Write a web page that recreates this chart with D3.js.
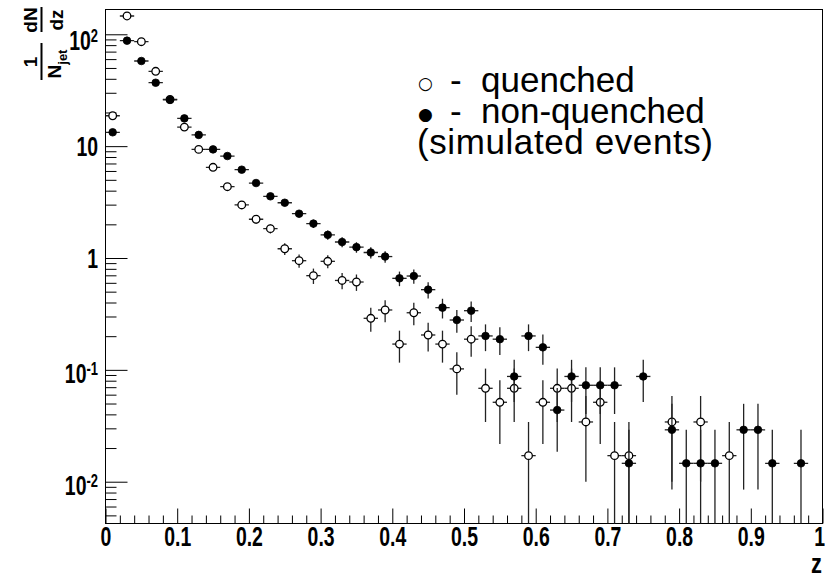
<!DOCTYPE html>
<html>
<head>
<meta charset="utf-8">
<script src="https://cdn.jsdelivr.net/npm/d3@7/dist/d3.min.js"></script>
<style>
  html, body { margin: 0; padding: 0; background: #fff; }
  svg { display: block; }
  .tick-label { font-family: "Liberation Sans", Arial, sans-serif; font-weight: bold; }
</style>
</head>
<body>
<svg id="chart" width="825" height="580"></svg>
<script>
// Bin centres in z (bin width 0.02)
const zBins = [0.01, 0.03, 0.05, 0.07, 0.09, 0.11, 0.13, 0.15, 0.17, 0.19,
               0.21, 0.23, 0.25, 0.27, 0.29, 0.31, 0.33, 0.35, 0.37, 0.39,
               0.41, 0.43, 0.45, 0.47, 0.49, 0.51, 0.53, 0.55, 0.57, 0.59,
               0.61, 0.63, 0.65, 0.67, 0.69, 0.71, 0.73, 0.75, 0.77, 0.79,
               0.81, 0.83, 0.85, 0.87, 0.89, 0.91, 0.93, 0.95, 0.97, 0.99];
const binHalfWidth = 0.01;

// Quenched jets (open markers); null = empty bin
const quenched = [18.7, 145.8, 85.9, 46.7, 26.2, 14.8, 9.35, 6.47, 4.34, 2.98,
                  2.22, 1.83, 1.21, 0.946, 0.695, 0.934, 0.63, 0.61, 0.289, 0.343,
                  0.170, 0.324, 0.205, 0.170, 0.102, 0.188, 0.0684, 0.0513, 0.0684, 0.0171,
                  0.0513, 0.0684, 0.0684, 0.0342, 0.0513, 0.0171, 0.0171, null, null, 0.0342,
                  null, 0.0342, null, 0.0171, null, null, null, null, null, null];
const quenchedErr = [0.566, 1.58, 1.21, 0.894, 0.669, 0.503, 0.400, 0.333, 0.272, 0.226,
                     0.195, 0.177, 0.144, 0.127, 0.109, 0.126, 0.104, 0.102, 0.070, 0.077,
                     0.054, 0.074, 0.059, 0.054, 0.042, 0.057, 0.0342, 0.0296, 0.0342, 0.0171,
                     0.0296, 0.0342, 0.0342, 0.0242, 0.0296, 0.0171, 0.0171, null, null, 0.0242,
                     null, 0.0242, null, 0.0171, null, null, null, null, null, null];

// Non-quenched jets (filled markers)
const nonQuenched = [13.3, 87.7, 57.7, 36.9, 25.9, 17.7, 12.6, 9.35, 8.16, 6.16,
                     4.68, 3.56, 3.12, 2.49, 2.03, 1.61, 1.39, 1.25, 1.12, 1.03,
                     0.658, 0.690, 0.521, 0.360, 0.279, 0.338, 0.201, 0.188, 0.0873, 0.201,
                     0.159, 0.0437, 0.0873, 0.0728, 0.0728, 0.0728, 0.0146, 0.0873, null, 0.0291,
                     0.0146, 0.0146, 0.0146, null, 0.0291, 0.0291, 0.0146, null, 0.0146, null];
const nonQuenchedErr = [0.44, 1.13, 0.916, 0.733, 0.614, 0.507, 0.428, 0.369, 0.345, 0.299,
                        0.261, 0.228, 0.213, 0.190, 0.172, 0.153, 0.142, 0.135, 0.128, 0.122,
                        0.098, 0.100, 0.087, 0.072, 0.064, 0.070, 0.054, 0.052, 0.0356, 0.054,
                        0.048, 0.0252, 0.0356, 0.0325, 0.0325, 0.0325, 0.0146, 0.0356, null, 0.0206,
                        0.0146, 0.0146, 0.0146, null, 0.0206, 0.0206, 0.0146, null, 0.0146, null];

// Axis ticks and labels
const xMajorTicks = [0, 0.1, 0.2, 0.3, 0.4, 0.5, 0.6, 0.7, 0.8, 0.9, 1];
const xTickLabels = ["0", "0.1", "0.2", "0.3", "0.4", "0.5", "0.6", "0.7", "0.8", "0.9", "1"];
const yMajorTicks = [0.01, 0.1, 1, 10, 100];
const yTickBase = ["10", "10", "1", "10", "10"];
const yTickExp = ["-2", "-1", null, null, "2"];
const legendLines = [
  { symbol: "\u25CB", dash: "-", text: "quenched" },
  { symbol: "\u25CF", dash: "-", text: "non-quenched" },
  { symbol: null, dash: null, text: "(simulated events)" }
];

const W = 825, H = 580;
const margin = { left: 105.5, top: 9.5, right: 2.5, bottom: 56.5 };
const plotW = W - margin.left - margin.right;
const plotH = H - margin.top - margin.bottom;
const narrow = 0.72;        // horizontal squeeze of the bold axis font
const labelSize = 27;

const svg = d3.select("#chart");
const x = d3.scaleLinear().domain([0, 1]).range([margin.left, margin.left + plotW]);
const y = d3.scaleLog().domain([0.00423, 166.6]).range([margin.top + plotH, margin.top]);

// clip region = frame
svg.append("defs").append("clipPath").attr("id", "frameClip")
  .append("rect").attr("x", margin.left).attr("y", margin.top)
  .attr("width", plotW).attr("height", plotH);

// ---- x axis ----
const xMinor = d3.range(0, 51).map(i => i * 0.02).filter(v => Math.abs(v * 10 - Math.round(v * 10)) > 1e-6);
const xAxisMinor = d3.axisBottom(x).tickValues(xMinor).tickSizeInner(-8).tickSizeOuter(0).tickFormat("");
const xAxisMajor = d3.axisBottom(x).tickValues(xMajorTicks).tickSizeInner(-15).tickSizeOuter(0)
  .tickPadding(3).tickFormat((d, i) => xTickLabels[i]);
const gx1 = svg.append("g").attr("transform", `translate(0,${margin.top + plotH})`).call(xAxisMinor);
const gx2 = svg.append("g").attr("transform", `translate(0,${margin.top + plotH})`).call(xAxisMajor);
[gx1, gx2].forEach(g => { g.select(".domain").remove(); g.selectAll("line").attr("stroke", "#000"); });
gx2.selectAll("text").attr("class", "tick-label").attr("font-size", labelSize).attr("fill", "#000")
  .attr("transform", `scale(${narrow},1)`);
// the last label sits right at the canvas edge
gx2.selectAll(".tick").filter(d => d === 1).select("text").attr("text-anchor", "end").attr("x", 2 / narrow);

// ---- y axis ----
const yAll = y.ticks();
const yMinor = yAll.filter(v => !yMajorTicks.some(m => Math.abs(Math.log10(v) - Math.log10(m)) < 1e-6));
const yAxisMinor = d3.axisLeft(y).tickValues(yMinor).tickSizeInner(-11).tickSizeOuter(0).tickFormat("");
const yAxisMajor = d3.axisLeft(y).tickValues(yMajorTicks).tickSizeInner(-22).tickSizeOuter(0)
  .tickPadding(7).tickFormat("");
const gy1 = svg.append("g").attr("transform", `translate(${margin.left},0)`).call(yAxisMinor);
const gy2 = svg.append("g").attr("transform", `translate(${margin.left},0)`).call(yAxisMajor);
[gy1, gy2].forEach(g => { g.select(".domain").remove(); g.selectAll("line").attr("stroke", "#000"); });
gy2.selectAll(".tick text").each(function (d, i) {
  const t = d3.select(this).attr("class", "tick-label").attr("font-size", labelSize).attr("fill", "#000")
    .attr("dy", null).attr("y", 0).attr("x", -7.5 / narrow).attr("transform", `scale(${narrow},1)`);
  const exp = yTickExp[i];
  if (exp === null) {
    t.attr("dy", "0.36em").text(yTickBase[i]);
  } else {
    t.text(null).attr("dy", i === yMajorTicks.length - 1 ? "0.58em" : "0.48em");
    t.append("tspan").text(yTickBase[i]);
    t.append("tspan").attr("dy", "-0.45em").attr("font-size", 18).text(exp);
  }
});

// ---- frame ----
svg.append("rect").attr("x", margin.left).attr("y", margin.top)
  .attr("width", plotW).attr("height", plotH)
  .attr("fill", "none").attr("stroke", "#000").attr("stroke-width", 1);

// ---- data ----
function series(values, errs) {
  return zBins.map((z, i) => ({ z, v: values[i], e: errs[i] })).filter(d => d.v !== null);
}
const dataQ = series(quenched, quenchedErr);
const dataN = series(nonQuenched, nonQuenchedErr);
const plot = svg.append("g").attr("clip-path", "url(#frameClip)");
const r = 3.8;

function drawSeries(data, filled) {
  const g = plot.append("g");
  // vertical error bars (lower edge may reach zero -> clipped at the frame)
  g.selectAll("line.ev").data(data).join("line").attr("class", "ev")
    .attr("x1", d => x(d.z)).attr("x2", d => x(d.z))
    .attr("y1", d => y(d.v + d.e))
    .attr("y2", d => (d.v - d.e) > 0 ? y(d.v - d.e) : margin.top + plotH + 5)
    .attr("stroke", "#222").attr("stroke-width", 1.3);
  // horizontal bars span the bin
  g.selectAll("line.eh").data(data).join("line").attr("class", "eh")
    .attr("x1", d => x(d.z - binHalfWidth)).attr("x2", d => x(d.z + binHalfWidth))
    .attr("y1", d => y(d.v)).attr("y2", d => y(d.v))
    .attr("stroke", "#222").attr("stroke-width", 1.3);
  g.selectAll("circle").data(data).join("circle")
    .attr("cx", d => x(d.z)).attr("cy", d => y(d.v)).attr("r", r)
    .attr("fill", filled ? "#000" : "#fff")
    .attr("stroke", "#000").attr("stroke-width", filled ? 0.8 : 1.3);
}
drawSeries(dataQ, false);
drawSeries(dataN, true);

// ---- axis titles ----
svg.append("text").attr("class", "tick-label")
  .attr("transform", `translate(822,573) scale(${narrow + 0.06},1)`)
  .attr("text-anchor", "end").attr("font-size", 28).text("z");

const yl = svg.append("g").attr("transform", "translate(41.5,0) rotate(-90)")
  .attr("font-family", "Liberation Sans, Arial, sans-serif").attr("font-weight", "bold").attr("font-size", 19);
yl.append("line").attr("x1", -80).attr("x2", -43).attr("y1", 0).attr("y2", 0)
  .attr("stroke", "#000").attr("stroke-width", 2);
yl.append("text").attr("x", -62).attr("y", -5).attr("text-anchor", "middle").text("1");
const nj = yl.append("text").attr("x", -64).attr("y", 19).attr("text-anchor", "middle");
nj.append("tspan").text("N");
nj.append("tspan").attr("dy", 6).attr("font-size", 13).text("jet");
yl.append("line").attr("x1", -32).attr("x2", -7).attr("y1", 0).attr("y2", 0)
  .attr("stroke", "#000").attr("stroke-width", 2);
yl.append("text").attr("x", -20).attr("y", -5).attr("text-anchor", "middle").text("dN");
yl.append("text").attr("x", -20).attr("y", 21).attr("text-anchor", "middle").text("dz");

// ---- legend text ----
const leg = svg.append("g").attr("font-family", "Liberation Sans, Arial, sans-serif").attr("font-size", 35);
legendLines.forEach((l, i) => {
  const yb = 92 + i * 31;
  if (l.symbol) {
    leg.append("text").attr("x", 418).attr("y", yb - 3)
      .attr("font-family", "DejaVu Sans").attr("font-size", 17).text(l.symbol);
    leg.append("text").attr("x", 450).attr("y", yb).text(l.dash);
    leg.append("text").attr("x", 481).attr("y", yb).text(l.text);
  } else {
    leg.append("text").attr("x", 417).attr("y", yb).attr("textLength", 296)
      .attr("lengthAdjust", "spacing").text(l.text);
  }
});
</script>
</body>
</html>
